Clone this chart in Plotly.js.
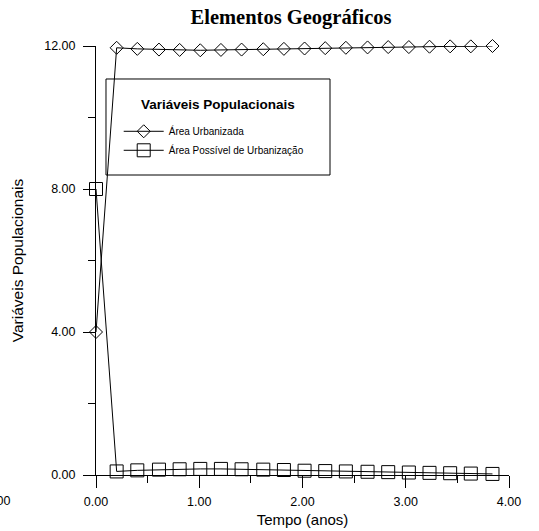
<!DOCTYPE html>
<html>
<head>
<meta charset="utf-8">
<script src="https://cdn.plot.ly/plotly-3.0.1.min.js"></script>
<style>
  html, body { margin: 0; padding: 0; background: #fff; }
  #chart { width: 539px; height: 531px; }
</style>
</head>
<body>
<div id="chart"></div>
<script>
// Time axis (years)
const tempo = [0, 0.20, 0.40, 0.61, 0.81, 1.01, 1.21, 1.41, 1.62, 1.82,
               2.02, 2.22, 2.42, 2.63, 2.83, 3.03, 3.23, 3.43, 3.63, 3.84];

// Urbanized area
const areaUrbanizada = [4.00, 11.95, 11.92, 11.90, 11.89, 11.88, 11.89, 11.90, 11.91, 11.92,
                        11.93, 11.94, 11.95, 11.96, 11.97, 11.97, 11.98, 11.99, 11.99, 12.00];

// Area still available for urbanization
const areaPossivel = [8.00, 0.10, 0.13, 0.15, 0.16, 0.17, 0.17, 0.16, 0.15, 0.14,
                      0.12, 0.11, 0.10, 0.09, 0.08, 0.07, 0.06, 0.05, 0.04, 0.03];

const seriesNames = ['Área Urbanizada', 'Área Possível de Urbanização'];
const legendHeading = 'Variáveis Populacionais';
const xTickVals = [-1, 0, 1, 2, 3, 4];
const yTickVals = [0, 4, 8, 12];

const sans = 'Arial, "Liberation Sans", Helvetica, sans-serif';
const serif = '"Times New Roman", "Liberation Serif", Times, serif';

const traces = [
  {
    x: tempo, y: areaUrbanizada, name: seriesNames[0],
    type: 'scatter', mode: 'lines+markers', cliponaxis: false,
    line: { color: '#000', width: 1 },
    marker: { symbol: 'diamond-open', size: 10, color: '#000', line: { color: '#000', width: 1 } }
  },
  {
    x: tempo, y: areaPossivel, name: seriesNames[1],
    type: 'scatter', mode: 'lines+markers', cliponaxis: false,
    line: { color: '#000', width: 1 },
    marker: { symbol: 'square-open', size: 13, color: '#000', line: { color: '#000', width: 1 } }
  }
];

const axisCommon = {
  showline: true, linecolor: '#000', linewidth: 1,
  showgrid: false, zeroline: false,
  ticks: 'outside', ticklen: 12, tickwidth: 1, tickcolor: '#000',
  tickformat: '.2f',
  tickfont: { family: sans, size: 12.5, color: '#000' }
};

const layout = {
  width: 539, height: 531,
  margin: { l: 96, r: 30, t: 46, b: 56, pad: 0 },
  paper_bgcolor: '#fff', plot_bgcolor: '#fff',
  showlegend: true,
  title: {
    text: '<b>Elementos Geográficos</b>',
    font: { family: serif, size: 20.5, color: '#000' },
    x: 0.54, xanchor: 'center', y: 0.969, yanchor: 'middle'
  },
  xaxis: Object.assign({}, axisCommon, {
    range: [0, 4], tickvals: xTickVals.slice(1), ticklabelstandoff: 3,
    minor: { ticks: 'outside', ticklen: 7, dtick: 0.5, tick0: 0, tickcolor: '#000', tickwidth: 1 },
    title: { text: 'Tempo (anos)', font: { family: sans, size: 15, color: '#000' }, standoff: 6 }
  }),
  yaxis: Object.assign({}, axisCommon, {
    range: [0, 12], tickvals: yTickVals, ticklabelstandoff: 5,
    minor: { ticks: 'outside', ticklen: 7, dtick: 2, tick0: 0, tickcolor: '#000', tickwidth: 1 },
    title: { text: 'Variáveis Populacionais', font: { family: sans, size: 15.5, color: '#000' }, standoff: 16 }
  }),
  legend: {
    x: 0.055, y: 0.835, xanchor: 'left', yanchor: 'top',
    bgcolor: 'rgba(0,0,0,0)', borderwidth: 0,
    itemwidth: 40, tracegroupgap: 0,
    font: { family: sans, size: 10, color: '#000' }
  },
  shapes: [
    // legend frame
    { type: 'rect', xref: 'paper', yref: 'paper',
      x0: 0.0242, x1: 0.5666, y0: 0.6993, y1: 0.9231,
      line: { color: '#000', width: 1 }, fillcolor: 'rgba(0,0,0,0)' }
  ],
  annotations: [
    // legend heading, centred in the frame
    { xref: 'paper', yref: 'paper', x: 0.2954, y: 0.8625, xanchor: 'center', yanchor: 'middle',
      text: '<b>' + legendHeading + '</b>', showarrow: false,
      font: { family: sans, size: 13.5, color: '#000' } },
    // the tick at -1 sits left of the plotted range, partly off the page
    { xref: 'paper', yref: 'paper', x: xTickVals[0] / 4, y: 0, yshift: -26, xshift: 4,
      text: xTickVals[0].toFixed(2), showarrow: false, xanchor: 'center', yanchor: 'middle',
      font: { family: sans, size: 12.5, color: '#000' } }
  ]
};

Plotly.newPlot('chart', traces, layout, { displayModeBar: false, staticPlot: true });
</script>
</body>
</html>
